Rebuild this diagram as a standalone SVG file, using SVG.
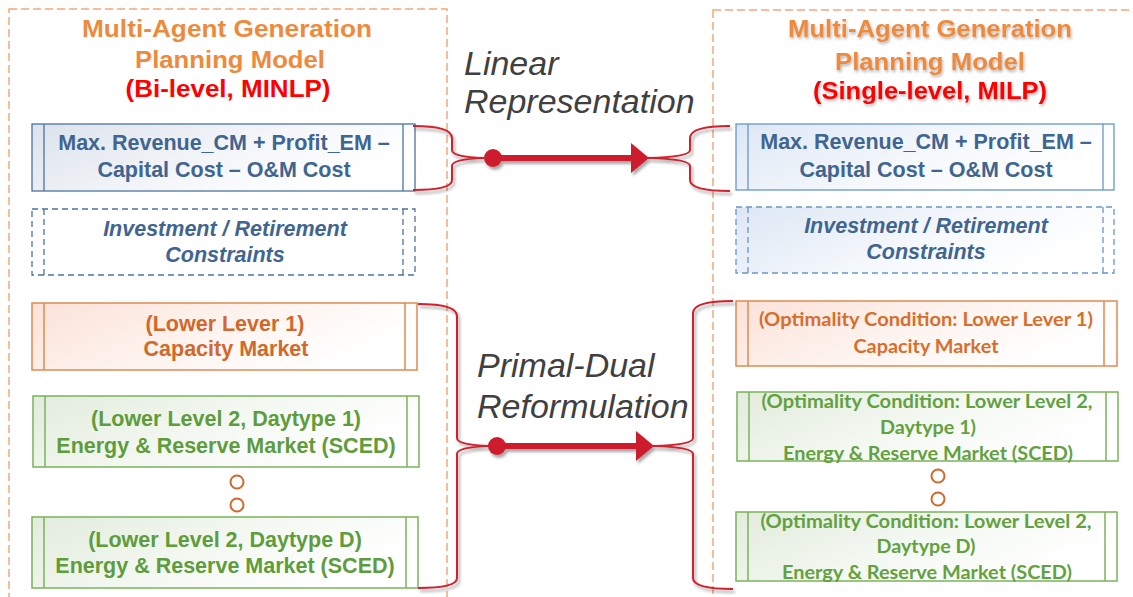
<svg xmlns="http://www.w3.org/2000/svg" width="1133" height="597" viewBox="0 0 1133 597">
  <defs>
    <style>
      .frame { fill: none; stroke: #F2A878; stroke-width: 1.5; stroke-dasharray: 8 4; }
      .title { font-family: "Liberation Sans", Arial, sans-serif; font-weight: bold; font-size: 24px; text-anchor: middle; fill: #EE8A3C; }
      .title-red { fill: #FF0000; }
      .t { font-family: "Liberation Sans", Arial, sans-serif; font-weight: bold; font-size: 21.5px; text-anchor: middle; }
      .c { font-family: Lato, "Open Sans", sans-serif; font-weight: bold; font-size: 18.5px; text-anchor: middle; }
      .it { font-style: italic; }
      .blue { fill: #3F6590; }
      .orange { fill: #D0692B; }
      .green { fill: #5E9C3C; }
      .green2 { fill: #62A140; }
      .orange2 { fill: #D86E2C; }
      .b-blue { stroke: #4D739E; stroke-width: 1.3; }
      .b-blue2 { stroke: #6896CA; stroke-width: 1.3; }
      .b-orange { stroke: #E08A52; stroke-width: 1.5; }
      .b-green { stroke: #7AB35A; stroke-width: 1.5; }
      .dash { stroke-dasharray: 6 4; }
      .note { font-family: "Liberation Sans", Arial, sans-serif; font-style: italic; font-size: 34px; fill: #404040; }
      .brace { fill: none; stroke: #D0202E; stroke-width: 2; }
      .arrow { stroke: #CC1F2D; stroke-width: 6; }
      .dot { fill: #fff; stroke: #D0692B; stroke-width: 2; }
    </style>
    <linearGradient id="gBlue" x1="0" y1="0" x2="1" y2="0.4">
      <stop offset="0" stop-color="#DCE3EC"/>
      <stop offset="0.6" stop-color="#F4F6F9"/>
      <stop offset="1" stop-color="#FFFFFF"/>
    </linearGradient>
    <linearGradient id="gBlue2" x1="0" y1="0" x2="1" y2="0.4">
      <stop offset="0" stop-color="#DDE7F4"/>
      <stop offset="0.6" stop-color="#F5F8FC"/>
      <stop offset="1" stop-color="#FFFFFF"/>
    </linearGradient>
    <linearGradient id="gOrange" x1="0" y1="0" x2="1" y2="0.4">
      <stop offset="0" stop-color="#FBE2D8"/>
      <stop offset="0.6" stop-color="#FEF5F1"/>
      <stop offset="1" stop-color="#FFFFFF"/>
    </linearGradient>
    <linearGradient id="gGreen" x1="0" y1="0" x2="1" y2="0.4">
      <stop offset="0" stop-color="#E2ECDD"/>
      <stop offset="0.6" stop-color="#F5F9F3"/>
      <stop offset="1" stop-color="#FFFFFF"/>
    </linearGradient>
    <filter id="shadow" x="-10%" y="-10%" width="130%" height="130%">
      <feGaussianBlur in="SourceAlpha" stdDeviation="1.6"/>
      <feOffset dx="2" dy="3" result="o"/>
      <feComponentTransfer><feFuncA type="linear" slope="0.35"/></feComponentTransfer>
      <feMerge><feMergeNode/><feMergeNode in="SourceGraphic"/></feMerge>
    </filter>
    <filter id="glow" x="-10%" y="-20%" width="120%" height="150%">
      <feGaussianBlur in="SourceAlpha" stdDeviation="1.5"/>
      <feOffset dx="1" dy="2"/>
      <feComponentTransfer><feFuncA type="linear" slope="0.3"/></feComponentTransfer>
      <feMerge><feMergeNode/><feMergeNode in="SourceGraphic"/></feMerge>
    </filter>
  </defs>

  <rect width="1133" height="597" fill="#FFFFFF"/>

  <!-- model frames -->
  <rect class="frame" x="9" y="9" width="438" height="620"/>
  <rect class="frame" x="713" y="10" width="440" height="620"/>

  <!-- left model: bi-level -->
  <g id="left-title">
    <text class="title" x="227" y="37" textLength="290" lengthAdjust="spacingAndGlyphs">Multi-Agent Generation</text>
    <text class="title" x="230" y="68" textLength="190" lengthAdjust="spacingAndGlyphs">Planning Model</text>
    <text class="title title-red" x="228" y="97" textLength="205" lengthAdjust="spacingAndGlyphs">(Bi-level, MINLP)</text>
  </g>

  <g id="left-objective">
    <rect x="32" y="124" width="383" height="67" fill="url(#gBlue)" class="b-blue"/>
    <line x1="44" y1="124" x2="44" y2="191" class="b-blue"/>
    <line x1="403" y1="124" x2="403" y2="191" class="b-blue"/>
    <text class="t blue" x="224" y="150">Max. Revenue_CM + Profit_EM –</text>
    <text class="t blue" x="224" y="177">Capital Cost – O&amp;M Cost</text>
  </g>

  <g id="left-constraints">
    <rect x="32" y="209" width="383" height="66" fill="#FFFFFF" class="b-blue dash"/>
    <line x1="44" y1="209" x2="44" y2="275" class="b-blue dash"/>
    <line x1="403" y1="209" x2="403" y2="275" class="b-blue dash"/>
    <text class="t it blue" x="225" y="236">Investment / Retirement</text>
    <text class="t it blue" x="225" y="262">Constraints</text>
  </g>

  <g id="left-capacity">
    <rect x="32" y="303" width="385" height="67" fill="url(#gOrange)" class="b-orange"/>
    <line x1="44" y1="303" x2="44" y2="370" class="b-orange"/>
    <line x1="405" y1="303" x2="405" y2="370" class="b-orange"/>
    <text class="t orange" x="225" y="331">(Lower Lever 1)</text>
    <text class="t orange" x="226" y="356">Capacity Market</text>
  </g>

  <g id="left-energy-1">
    <rect x="33" y="396" width="386" height="71" fill="url(#gGreen)" class="b-green"/>
    <line x1="45" y1="396" x2="45" y2="467" class="b-green"/>
    <line x1="407" y1="396" x2="407" y2="467" class="b-green"/>
    <text class="t green" x="226" y="426">(Lower Level 2, Daytype 1)</text>
    <text class="t green" x="226" y="453">Energy &amp; Reserve Market (SCED)</text>
  </g>

  <g id="left-ellipsis">
    <circle class="dot" cx="237" cy="482" r="6.5"/>
    <circle class="dot" cx="237" cy="505" r="6.5"/>
  </g>

  <g id="left-energy-d">
    <rect x="32" y="517" width="386" height="71" fill="url(#gGreen)" class="b-green"/>
    <line x1="44" y1="517" x2="44" y2="588" class="b-green"/>
    <line x1="406" y1="517" x2="406" y2="588" class="b-green"/>
    <text class="t green" x="225" y="547">(Lower Level 2, Daytype D)</text>
    <text class="t green" x="225" y="573">Energy &amp; Reserve Market (SCED)</text>
  </g>

  <!-- right model: single-level -->
  <g id="right-title" filter="url(#glow)">
    <text class="title" x="930" y="37" textLength="284" lengthAdjust="spacingAndGlyphs">Multi-Agent Generation</text>
    <text class="title" x="930" y="70" textLength="190" lengthAdjust="spacingAndGlyphs">Planning Model</text>
    <text class="title title-red" x="930" y="99" textLength="234" lengthAdjust="spacingAndGlyphs">(Single-level, MILP)</text>
  </g>

  <g id="right-objective">
    <rect x="736" y="124" width="378" height="66" fill="url(#gBlue2)" class="b-blue2"/>
    <line x1="748" y1="124" x2="748" y2="190" class="b-blue2"/>
    <line x1="1103" y1="124" x2="1103" y2="190" class="b-blue2"/>
    <text class="t blue" x="926" y="149">Max. Revenue_CM + Profit_EM –</text>
    <text class="t blue" x="926" y="177">Capital Cost – O&amp;M Cost</text>
  </g>

  <g id="right-constraints">
    <rect x="736" y="207" width="378" height="66" fill="url(#gBlue2)" class="b-blue2 dash"/>
    <line x1="748" y1="207" x2="748" y2="273" class="b-blue2 dash"/>
    <line x1="1103" y1="207" x2="1103" y2="273" class="b-blue2 dash"/>
    <text class="t it blue" x="926" y="233">Investment / Retirement</text>
    <text class="t it blue" x="926" y="259">Constraints</text>
  </g>

  <g id="right-capacity">
    <rect x="736" y="301" width="381" height="65" fill="url(#gOrange)" class="b-orange"/>
    <line x1="748" y1="301" x2="748" y2="366" class="b-orange"/>
    <line x1="1104" y1="301" x2="1104" y2="366" class="b-orange"/>
    <text class="c orange2" x="926" y="326" textLength="334" lengthAdjust="spacingAndGlyphs">(Optimality Condition: Lower Lever 1)</text>
    <text class="c orange2" x="926" y="353" textLength="145" lengthAdjust="spacingAndGlyphs">Capacity Market</text>
  </g>

  <g id="right-energy-1">
    <rect x="737" y="392" width="381" height="69" fill="url(#gGreen)" class="b-green"/>
    <line x1="749" y1="392" x2="749" y2="461" class="b-green"/>
    <line x1="1106" y1="392" x2="1106" y2="461" class="b-green"/>
    <text class="c green2" x="927" y="408" textLength="331" lengthAdjust="spacingAndGlyphs">(Optimality Condition: Lower Level 2,</text>
    <text class="c green2" x="928" y="434" textLength="96" lengthAdjust="spacingAndGlyphs">Daytype 1)</text>
    <text class="c green2" x="928" y="460" textLength="290" lengthAdjust="spacingAndGlyphs">Energy &amp; Reserve Market (SCED)</text>
  </g>

  <g id="right-ellipsis">
    <circle class="dot" cx="938" cy="476" r="6.5"/>
    <circle class="dot" cx="938" cy="499" r="6.5"/>
  </g>

  <g id="right-energy-d">
    <rect x="736" y="512" width="381" height="69" fill="url(#gGreen)" class="b-green"/>
    <line x1="748" y1="512" x2="748" y2="581" class="b-green"/>
    <line x1="1105" y1="512" x2="1105" y2="581" class="b-green"/>
    <text class="c green2" x="926" y="528" textLength="331" lengthAdjust="spacingAndGlyphs">(Optimality Condition: Lower Level 2,</text>
    <text class="c green2" x="926" y="553" textLength="99" lengthAdjust="spacingAndGlyphs">Daytype D)</text>
    <text class="c green2" x="927" y="579" textLength="290" lengthAdjust="spacingAndGlyphs">Energy &amp; Reserve Market (SCED)</text>
  </g>

  <!-- transformation labels -->
  <g id="label-linear">
    <text class="note" x="464" y="75">Linear</text>
    <text class="note" x="464" y="113">Representation</text>
  </g>
  <g id="label-primal-dual">
    <text class="note" x="477" y="377">Primal-Dual</text>
    <text class="note" x="477" y="418">Reformulation</text>
  </g>

  <!-- connectors: braces and arrows -->
  <g id="connectors" filter="url(#shadow)">
    <path class="brace" d="M413,126 Q452,126 452,138 L452,150 Q452,157 484,158 Q452,159 452,166 L452,180 Q452,190 413,190"/>
    <path class="brace" d="M730,126 Q690,126 690,138 L690,150 Q690,157 648,158 Q690,159 690,166 L690,180 Q690,191 730,191"/>
    <line class="arrow" x1="493" y1="158" x2="634" y2="158"/>
    <circle cx="493" cy="158" r="9" fill="#CC1F2D"/>
    <polygon points="631,143 649,158 631,173" fill="#CC1F2D"/>

    <path class="brace" d="M418,304 Q457,304 457,316 L457,438 Q457,445 490,446 Q457,447 457,454 L457,578 Q457,588 418,588"/>
    <path class="brace" d="M733,301 Q693,301 693,313 L693,438 Q693,445 653,446 Q693,447 693,454 L693,578 Q693,589 733,589"/>
    <line class="arrow" x1="497" y1="446" x2="638" y2="446"/>
    <circle cx="497" cy="446" r="9" fill="#CC1F2D"/>
    <polygon points="636,431 654,446 636,461" fill="#CC1F2D"/>
  </g>
</svg>
